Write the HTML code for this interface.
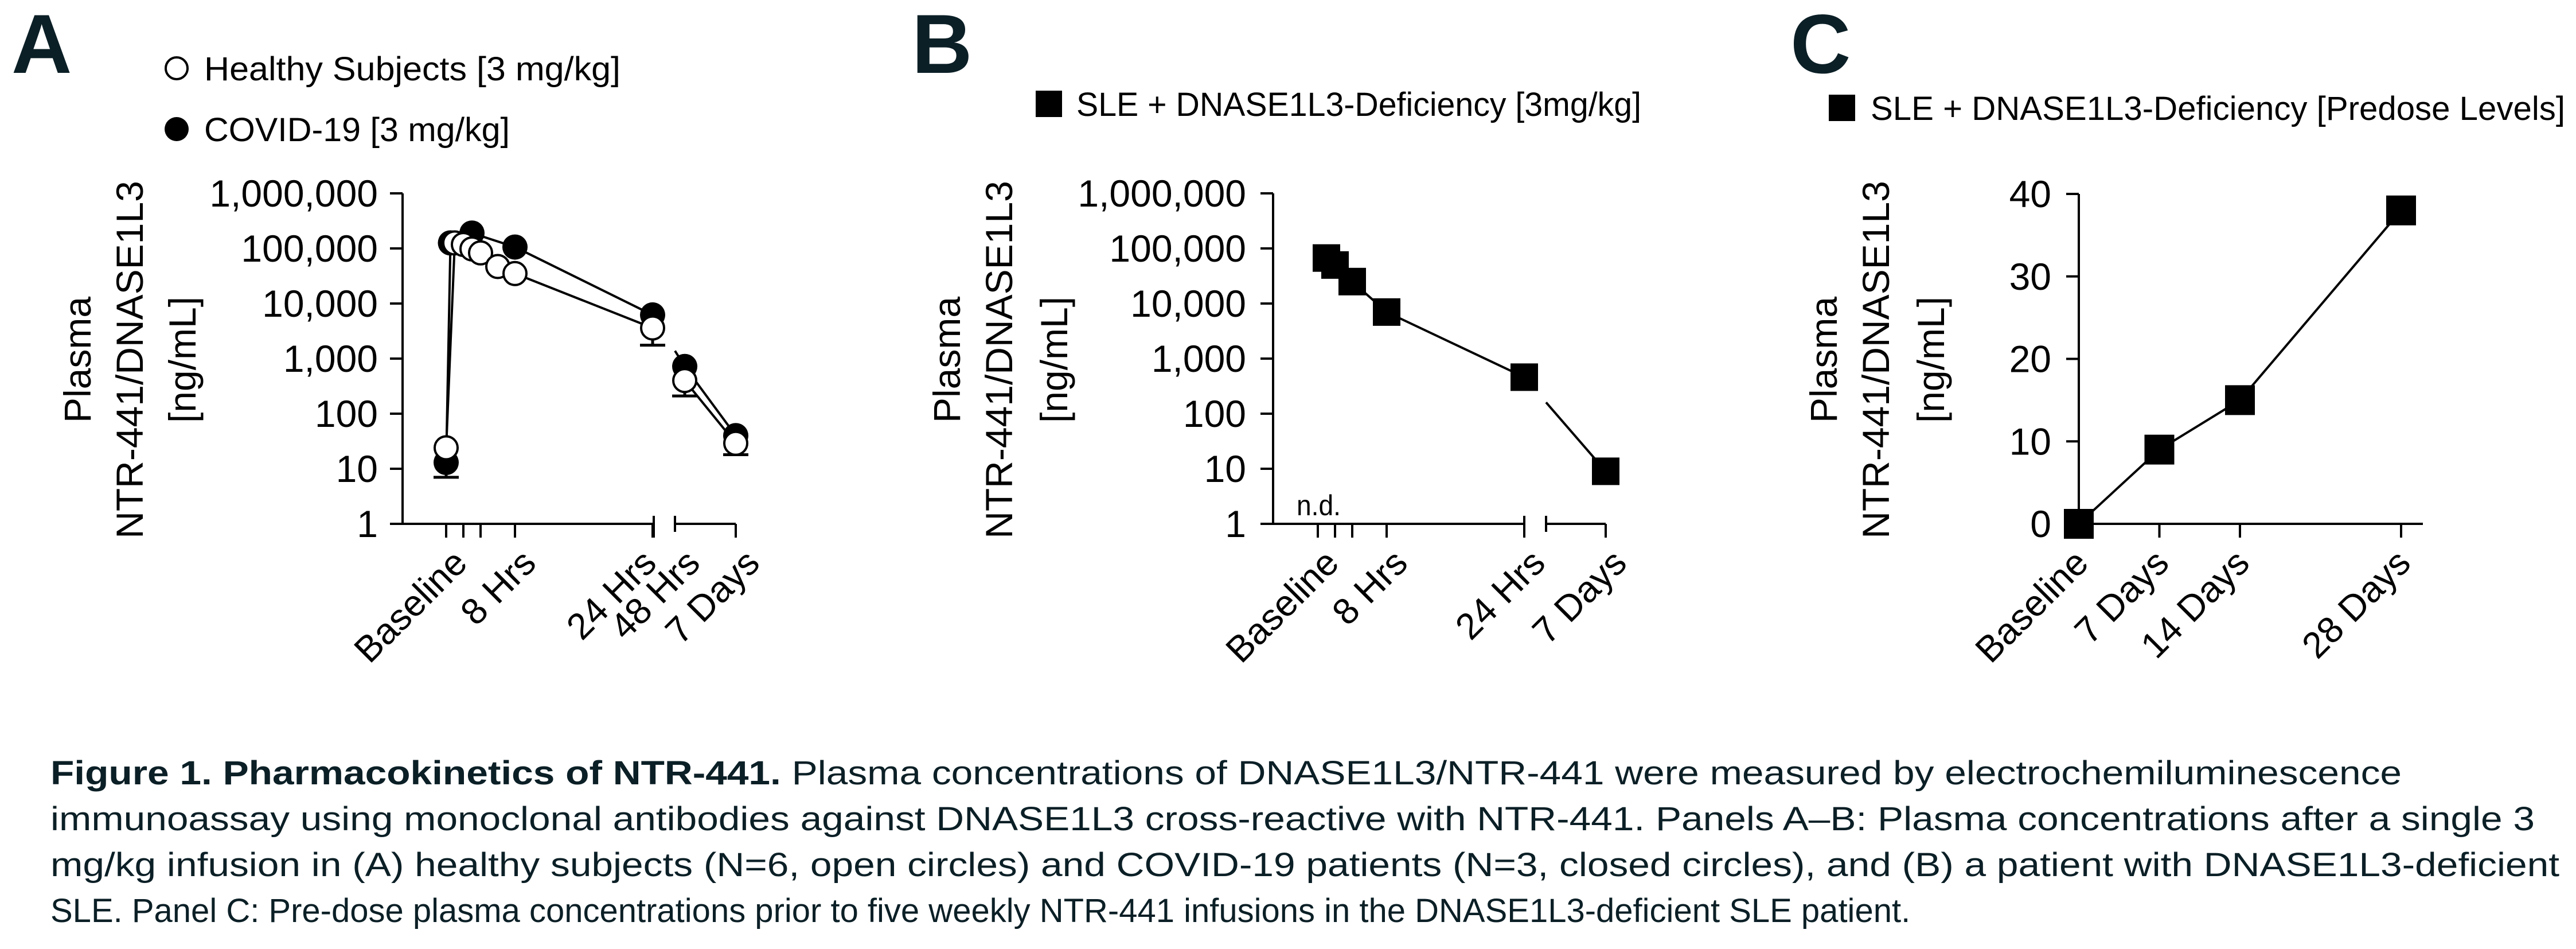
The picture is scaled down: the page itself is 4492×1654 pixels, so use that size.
<!DOCTYPE html>
<html><head><meta charset="utf-8"><style>
html,body{margin:0;padding:0;background:#fff;}
svg{display:block;}
text{font-family:"Liberation Sans",sans-serif;fill:#000;}
</style></head><body>
<svg id="fig" xmlns="http://www.w3.org/2000/svg" width="4492" height="1654" viewBox="0 0 4492 1654">
<rect x="0" y="0" width="4492" height="1654" fill="#fff"/>
<text x="20" y="127" font-size="146" font-weight="bold" style="fill:#0b1f26">A</text>
<text x="1590" y="127" font-size="146" font-weight="bold" style="fill:#0b1f26">B</text>
<text x="3122" y="127" font-size="146" font-weight="bold" style="fill:#0b1f26">C</text>

<g>
<circle cx="308" cy="119" r="19" fill="#fff" stroke="#000" stroke-width="4"/>
<text x="356" y="140" font-size="58" textLength="726" lengthAdjust="spacingAndGlyphs">Healthy Subjects [3 mg/kg]</text>
<circle cx="308" cy="225" r="21" fill="#000"/>
<text x="356" y="246" font-size="58" textLength="533" lengthAdjust="spacingAndGlyphs">COVID-19 [3 mg/kg]</text>
</g>
<g>
<rect x="1806" y="158" width="46" height="46" fill="#000"/>
<text x="1877" y="202" font-size="58" textLength="985" lengthAdjust="spacingAndGlyphs">SLE + DNASE1L3-Deficiency [3mg/kg]</text>
</g>
<g>
<rect x="3189" y="165" width="46" height="46" fill="#000"/>
<text x="3262" y="209" font-size="58" textLength="1211" lengthAdjust="spacingAndGlyphs">SLE + DNASE1L3-Deficiency [Predose Levels]</text>
</g>

<g font-size="66" text-anchor="middle" dominant-baseline="central">
<text transform="translate(135,627) rotate(-90)">Plasma</text>
<text transform="translate(226,627) rotate(-90)">NTR-441/DNASE1L3</text>
<text transform="translate(318,627) rotate(-90)">[ng/mL]</text>
</g>
<g font-size="66" text-anchor="middle" dominant-baseline="central">
<text transform="translate(1651,627) rotate(-90)">Plasma</text>
<text transform="translate(1742,627) rotate(-90)">NTR-441/DNASE1L3</text>
<text transform="translate(1838,627) rotate(-90)">[ng/mL]</text>
</g>
<g font-size="66" text-anchor="middle" dominant-baseline="central">
<text transform="translate(3180,627) rotate(-90)">Plasma</text>
<text transform="translate(3271,627) rotate(-90)">NTR-441/DNASE1L3</text>
<text transform="translate(3367,627) rotate(-90)">[ng/mL]</text>
</g>
<text x="2261" y="898" font-size="50" textLength="77" lengthAdjust="spacingAndGlyphs">n.d.</text>

<g font-size="58" style="fill:#0b1f26">
<text x="88" y="1367" textLength="4100" lengthAdjust="spacingAndGlyphs" style="fill:#0b1f26"><tspan font-weight="bold">Figure 1. Pharmacokinetics of NTR-441.</tspan> Plasma concentrations of DNASE1L3/NTR-441 were measured by electrochemiluminescence</text>
<text x="88" y="1447" textLength="4332" lengthAdjust="spacingAndGlyphs" style="fill:#0b1f26">immunoassay using monoclonal antibodies against DNASE1L3 cross-reactive with NTR-441. Panels A–B: Plasma concentrations after a single 3</text>
<text x="88" y="1527" textLength="4375" lengthAdjust="spacingAndGlyphs" style="fill:#0b1f26">mg/kg infusion in (A) healthy subjects (N=6, open circles) and COVID-19 patients (N=3, closed circles), and (B) a patient with DNASE1L3-deficient</text>
<text x="88" y="1607" style="fill:#0b1f26">SLE. Panel C: Pre-dose plasma concentrations prior to five weekly NTR-441 infusions in the DNASE1L3-deficient SLE patient.</text>
</g>
<g id="plots"></g>
</svg>
<script>
// Panel A (hours, ng/mL)
const healthyHours = [0, 1, 2, 3, 4, 6, 8, 24, 48, 168];
const healthyValues = [24, 126000, 118000, 98000, 83000, 47000, 35000, 3600, 400, 29];
const healthyErrLow = [null, null, null, null, null, null, null, 1750, 210, 18];
const covidHours = [0, 0.5, 3, 8, 24, 48, 168];
const covidValues = [13, 126000, 190000, 106000, 6200, 720, 40];
const covidErrLow = [7, null, null, null, null, null, null];
const logTickValues = [1, 10, 100, 1000, 10000, 100000, 1000000];
const logTickLabels = ["1", "10", "100", "1,000", "10,000", "100,000", "1,000,000"];
const hourTicksA = [0, 2, 4, 8, 24];
const xLabelsA = ["Baseline", "8 Hrs", "24 Hrs", "48 Hrs", "7 Days"];
const xLabelHoursA = [0, 8, 24, 48, 168];
// Panel B
const sleHours = [1, 2, 4, 8, 24, 168];
const sleValues = [67000, 50000, 25000, 7000, 460, 9];
const hourTicksB = [0, 2, 4, 8, 24];
const xLabelsB = ["Baseline", "8 Hrs", "24 Hrs", "7 Days"];
const xLabelHoursB = [0, 8, 24, 168];
// Panel C
const predoseDays = [0, 7, 14, 28];
const predoseValues = [0, 9, 15, 38];
const linTickValues = [0, 10, 20, 30, 40];
const xLabelsC = ["Baseline", "7 Days", "14 Days", "28 Days"];

const NS = "http://www.w3.org/2000/svg";
const root = document.getElementById('plots');
function mk(parent, tag, attrs, txt) {
  const e = document.createElementNS(NS, tag);
  for (const k in attrs) e.setAttribute(k, attrs[k]);
  if (txt !== undefined) e.textContent = txt;
  parent.appendChild(e);
  return e;
}
const Y0 = 913, Y1 = 337;
function yLog(v) { return Y0 - (Math.log10(v)) / 6 * (Y0 - Y1); }
function makeXScale(x0, perH, s2a, s2b, h2a, h2b) {
  return function (h) {
    if (h <= 24) return x0 + perH * h;
    return s2a + (h - h2a) / (h2b - h2a) * (s2b - s2a);
  };
}
function drawLogAxis(g, ax, labelRight, seg1End, brk2, seg2End, ticks, xfn) {
  mk(g, 'line', {x1: ax, y1: Y1, x2: ax, y2: Y0 + 2, stroke: '#000', 'stroke-width': 4});
  logTickValues.forEach((v, i) => {
    const y = yLog(v);
    const t = mk(g, 'line', {x1: ax - 22, y1: y, x2: ax, y2: y, stroke: '#000', 'stroke-width': 4});
    
    
    const l = mk(g, 'text', {x: labelRight, y: y + 23, 'font-size': 66, 'text-anchor': 'end'}, logTickLabels[i]);
    
    
  });
  mk(g, 'line', {x1: ax, y1: Y0, x2: seg1End, y2: Y0, stroke: '#000', 'stroke-width': 4});
  mk(g, 'line', {x1: seg1End, y1: Y0 - 14, x2: seg1End, y2: Y0 + 24, stroke: '#000', 'stroke-width': 4});
  mk(g, 'line', {x1: brk2, y1: Y0, x2: seg2End, y2: Y0, stroke: '#000', 'stroke-width': 4});
  mk(g, 'line', {x1: brk2, y1: Y0 - 14, x2: brk2, y2: Y0 + 14, stroke: '#000', 'stroke-width': 4});
  mk(g, 'line', {x1: seg2End, y1: Y0, x2: seg2End, y2: Y0 + 24, stroke: '#000', 'stroke-width': 4});
  ticks.forEach(h => {
    const x = xfn(h);
    const t = mk(g, 'line', {x1: x, y1: Y0, x2: x, y2: Y0 + 24, stroke: '#000', 'stroke-width': 4});
    
    
  });
}
function xLabel(g, x, text) {
  const l = mk(g, 'text', {transform: 'translate(' + x + ',985) rotate(-45)', 'font-size': 64, 'text-anchor': 'end'}, text);
  
  
}
function drawSeries(g, pts, brkX, name) {
  for (let i = 0; i < pts.length - 1; i++) {
    let [xa, ya] = pts[i], [xb, yb] = pts[i + 1];
    if (brkX && xa < brkX && xb > brkX) {
      ya = ya + (yb - ya) * (brkX - xa) / (xb - xa);
      xa = brkX;
    }
    const s = mk(g, 'line', {x1: xa, y1: ya, x2: xb, y2: yb, stroke: '#000', 'stroke-width': 4});
    
    
  }
}

// Panel A
const gA = mk(root, 'g', {});


const xA = makeXScale(778, 15, 1177, 1283, 25, 168);
drawLogAxis(gA, 702, 659, 1140, 1177, 1283, hourTicksA, xA);
const xLabelOffA = [40, 40, 10, 30, 45];
xLabelHoursA.forEach((h, i) => xLabel(gA, xA(h) + xLabelOffA[i], xLabelsA[i]));
const covPts = covidHours.map((h, i) => [xA(h), yLog(covidValues[i])]);
const hPts = healthyHours.map((h, i) => [xA(h), yLog(healthyValues[i])]);
drawSeries(gA, covPts, 1177, 'covid');
drawSeries(gA, hPts, 1177, 'healthy');
function errBar(g, x, y, low) {
  const yl = yLog(low);
  const e = mk(g, 'path', {d: 'M' + x + ',' + y + 'V' + yl + 'M' + (x - 22) + ',' + yl + 'H' + (x + 22), stroke: '#000', 'stroke-width': 5, fill: 'none'});
  
  
}
covPts.forEach((p, i) => { if (covidErrLow[i]) errBar(gA, p[0], p[1], covidErrLow[i]); });
hPts.forEach((p, i) => { if (healthyErrLow[i]) errBar(gA, p[0], p[1], healthyErrLow[i]); });
covPts.forEach(p => {
  const c = mk(gA, 'circle', {cx: p[0], cy: p[1], r: 22, fill: '#000'});
  
  
});
hPts.forEach(p => {
  const c = mk(gA, 'circle', {cx: p[0], cy: p[1], r: 20, fill: '#fff', stroke: '#000', 'stroke-width': 4});
  
  
});

// Panel B
const gB = mk(root, 'g', {});


const xB = makeXScale(2298, 15, 2696, 2800, 25, 168);
drawLogAxis(gB, 2220, 2173, 2658, 2696, 2800, hourTicksB, xB);
xLabelHoursB.forEach((h, i) => xLabel(gB, xB(h) + 40, xLabelsB[i]));
const slePts = sleHours.map((h, i) => [xB(h), yLog(sleValues[i])]);
drawSeries(gB, slePts, 2696, 'sle');
slePts.forEach(p => {
  const r = mk(gB, 'rect', {x: p[0] - 24, y: p[1] - 24, width: 48, height: 48, fill: '#000'});
  
  
});

// Panel C
const gC = mk(root, 'g', {});


const xC = d => 3625 + d * (4187 - 3625) / 28;
const yC = v => 913 - v / 40 * (913 - 338);
mk(gC, 'line', {x1: 3625, y1: 338, x2: 3625, y2: 915, stroke: '#000', 'stroke-width': 4});
mk(gC, 'line', {x1: 3625, y1: 913, x2: 4225, y2: 913, stroke: '#000', 'stroke-width': 4});
linTickValues.forEach(v => {
  const t = mk(gC, 'line', {x1: 3603, y1: yC(v), x2: 3625, y2: yC(v), stroke: '#000', 'stroke-width': 4});
  
  
  const l = mk(gC, 'text', {x: 3577, y: yC(v) + 23, 'font-size': 66, 'text-anchor': 'end'}, String(v));
  
  
});
predoseDays.forEach((d, i) => {
  if (d > 0) {
    const t = mk(gC, 'line', {x1: xC(d), y1: 913, x2: xC(d), y2: 937, stroke: '#000', 'stroke-width': 4});
    
    
  }
  xLabel(gC, xC(d) + 20, xLabelsC[i]);
});
const cPts = predoseDays.map((d, i) => [xC(d), yC(predoseValues[i])]);
drawSeries(gC, cPts, null, 'predose');
cPts.forEach(p => {
  const r = mk(gC, 'rect', {x: p[0] - 26, y: p[1] - 26, width: 52, height: 52, fill: '#000'});
  
  
});
</script>
</body></html>
